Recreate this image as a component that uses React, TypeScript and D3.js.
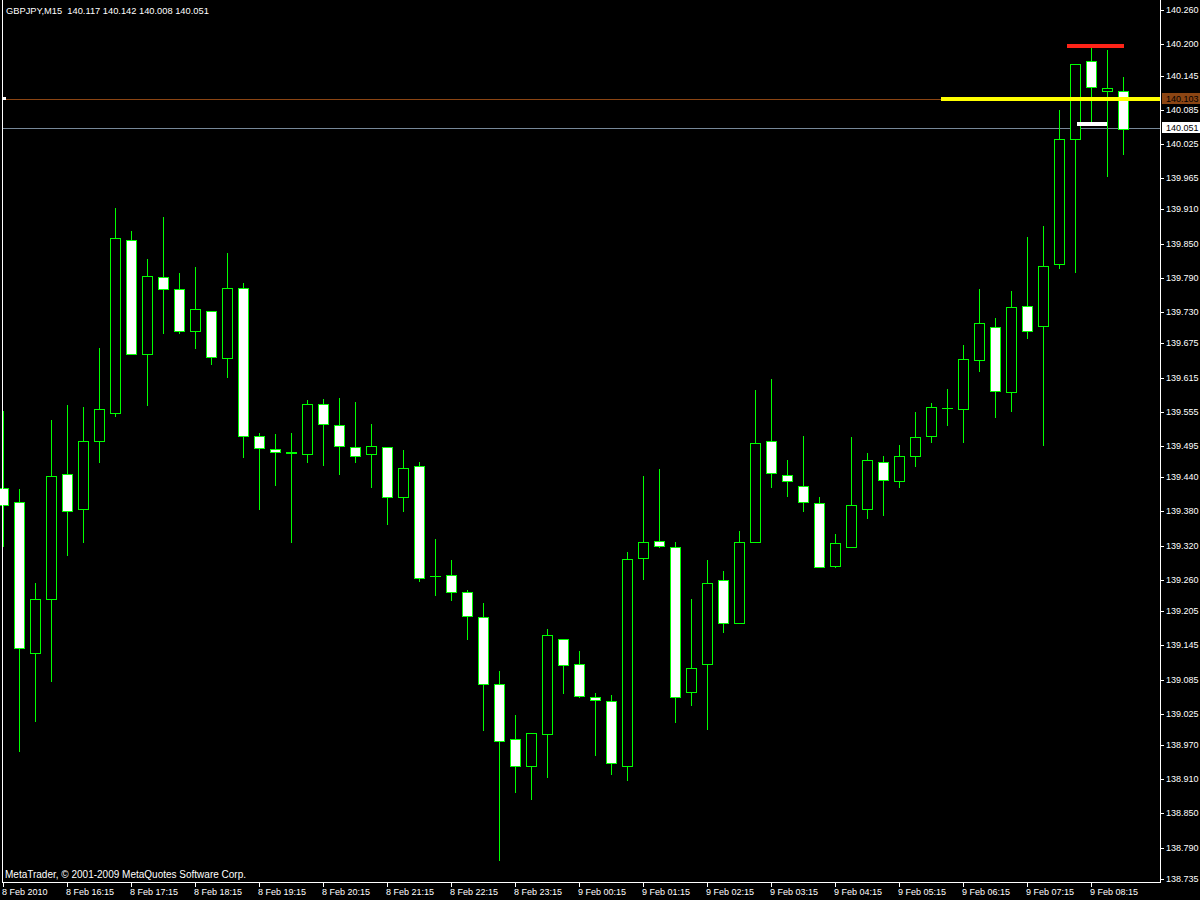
import React from "react";
import * as d3 from "d3";

// ---- chart texts ----
const symbolTitle = "GBPJPY,M15  140.117 140.142 140.008 140.051";
const copyright = "MetaTrader, © 2001-2009 MetaQuotes Software Corp.";

// ---- OHLC series (15-minute bars, 8 Feb 2010 15:15 .. 9 Feb 2010 08:45) ----
const opens = [
  139.421, 139.396, 139.132, 139.226, 139.445, 139.384, 139.503, 139.552, 139.856, 139.656,
  139.792, 139.770, 139.696, 139.731, 139.649, 139.773, 139.512, 139.489, 139.484, 139.480,
  139.568, 139.531, 139.493, 139.480, 139.493, 139.406, 139.459, 139.266, 139.268, 139.238,
  139.194, 139.077, 138.980, 138.934, 138.989, 139.156, 139.112, 139.054, 139.047, 138.934,
  139.298, 139.328, 139.317, 139.063, 139.113, 139.259, 139.185, 139.326, 139.503, 139.444,
  139.424, 139.394, 139.285, 139.317, 139.385, 139.466, 139.433, 139.477, 139.512, 139.562,
  139.559, 139.645, 139.703, 139.589, 139.740, 139.705, 139.814, 140.033, 140.170, 140.118,
  140.117,
];
const highs = [
  139.556, 139.419, 139.255, 139.540, 139.567, 139.563, 139.667, 139.913, 139.872, 139.823,
  139.897, 139.799, 139.809, 139.731, 139.834, 139.781, 139.518, 139.516, 139.518, 139.576,
  139.577, 139.579, 139.572, 139.533, 139.493, 139.488, 139.467, 139.332, 139.295, 139.242,
  139.219, 139.100, 139.023, 138.991, 139.174, 139.156, 139.135, 139.061, 139.058, 139.309,
  139.442, 139.454, 139.326, 139.226, 139.294, 139.275, 139.345, 139.594, 139.612, 139.470,
  139.512, 139.405, 139.340, 139.511, 139.482, 139.477, 139.497, 139.554, 139.570, 139.595,
  139.672, 139.770, 139.719, 139.767, 139.862, 139.881, 140.085, 140.166, 140.197, 140.190,
  140.142,
];
const lows = [
  139.320, 138.960, 139.013, 139.083, 139.304, 139.327, 139.466, 139.548, 139.656, 139.566,
  139.694, 139.694, 139.666, 139.638, 139.616, 139.476, 139.385, 139.427, 139.327, 139.467,
  139.462, 139.446, 139.467, 139.423, 139.358, 139.381, 139.258, 139.234, 139.225, 139.157,
  138.997, 138.769, 138.888, 138.876, 138.914, 139.062, 139.055, 138.953, 138.920, 138.909,
  139.262, 139.317, 139.011, 139.041, 138.999, 139.169, 139.185, 139.326, 139.423, 139.408,
  139.380, 139.282, 139.283, 139.317, 139.369, 139.374, 139.423, 139.460, 139.502, 139.532,
  139.502, 139.627, 139.546, 139.557, 139.685, 139.497, 139.808, 139.801, 140.063, 139.969,
  140.008,
];
const closes = [
  139.391, 139.140, 139.226, 139.443, 139.380, 139.503, 139.559, 139.860, 139.656, 139.794,
  139.770, 139.697, 139.735, 139.651, 139.773, 139.513, 139.491, 139.484, 139.483, 139.568,
  139.533, 139.494, 139.477, 139.494, 139.405, 139.457, 139.264, 139.266, 139.238, 139.196,
  139.078, 138.978, 138.934, 138.991, 139.163, 139.110, 139.056, 139.049, 138.938, 139.296,
  139.326, 139.319, 139.054, 139.106, 139.254, 139.184, 139.326, 139.501, 139.447, 139.433,
  139.396, 139.282, 139.324, 139.392, 139.471, 139.435, 139.477, 139.510, 139.563, 139.561,
  139.647, 139.710, 139.591, 139.738, 139.696, 139.810, 140.033, 140.166, 140.124, 140.123,
  140.051,
];

// ---- axis tick labels ----
const priceTicks = [
  140.26, 140.2, 140.145, 140.085, 140.025, 139.965, 139.91, 139.85, 139.79, 139.73,
  139.675, 139.615, 139.555, 139.495, 139.44, 139.38, 139.32, 139.26, 139.205, 139.145,
  139.085, 139.025, 138.97, 138.91, 138.85, 138.79, 138.735,
];
const timeLabels = [
  "8 Feb 2010", "8 Feb 16:15", "8 Feb 17:15", "8 Feb 18:15", "8 Feb 19:15", "8 Feb 20:15",
  "8 Feb 21:15", "8 Feb 22:15", "8 Feb 23:15", "9 Feb 00:15", "9 Feb 01:15", "9 Feb 02:15",
  "9 Feb 03:15", "9 Feb 04:15", "9 Feb 05:15", "9 Feb 06:15", "9 Feb 07:15", "9 Feb 08:15",
];
const timeLabelBars = [0, 4, 8, 12, 16, 20, 24, 28, 32, 36, 40, 44, 48, 52, 56, 60, 64, 68];

// ---- objects drawn on the chart ----
const hLineLevel = 140.103; // brown horizontal line (labelled)
const bidLevel = 140.051; // bid line (labelled)
const yellowLevel = 140.103;
const yellowFromBar = 58.625;
const redLevel = 140.197;
const redBars = [66.5, 70.0625];
const whiteLevel = 140.06;
const whiteBars = [67.125, 69];

const W = 1200;
const H = 900;
const PLOT_LEFT = 2;
const PLOT_RIGHT = 1160;
const PLOT_BOTTOM = 882;
const LIME = "#00ff00";
const FONT = "'Liberation Sans', Arial, sans-serif";

export default function App() {
  const x = d3.scaleLinear().domain([0, 70]).range([3, 1123]);
  const y = d3.scaleLinear().domain([138.735, 140.26]).range([879, 10]);
  const fmt = d3.format(".3f");

  const candles = opens.map((o, i) => {
    const c = Math.round(x(i));
    const cl = closes[i];
    const yt = Math.round(y(Math.max(o, cl)));
    const yb = Math.round(y(Math.min(o, cl)));
    const yh = Math.round(y(highs[i]));
    const yl = Math.round(y(lows[i]));
    const bull = cl > o;
    return (
      <g key={i}>
        <line x1={c + 0.5} x2={c + 0.5} y1={yh} y2={yl + 1} stroke={LIME} strokeWidth={1} />
        {yb - yt < 1 ? (
          <line x1={c - 5} x2={c + 6} y1={yt + 0.5} y2={yt + 0.5} stroke={LIME} strokeWidth={1} />
        ) : (
          <rect
            x={c - 5 + 0.5}
            y={yt + 0.5}
            width={10}
            height={yb - yt}
            fill={bull ? "#000000" : "#ffffff"}
            stroke={LIME}
            strokeWidth={1}
          />
        )}
      </g>
    );
  });

  const yHL = Math.floor(y(hLineLevel)) + 0.5;
  const yBid = Math.floor(y(bidLevel)) - 0.5;

  return (
    <svg
      width={W}
      height={H}
      style={{ position: "absolute", left: 0, top: 0, background: "#000" }}
      shapeRendering="crispEdges"
      fontFamily={FONT}
      fontSize={9}
    >
      <rect x={0} y={0} width={W} height={H} fill="#000" />

      {/* horizontal line object and bid line */}
      <line x1={PLOT_LEFT} x2={PLOT_RIGHT} y1={yHL} y2={yHL} stroke="#8b4513" strokeWidth={1} />
      <line x1={PLOT_LEFT} x2={PLOT_RIGHT} y1={yBid} y2={yBid} stroke="#778899" strokeWidth={1} />
      <rect x={3} y={yHL - 2.5} width={3} height={3} fill="#fff" />

      {/* candles */}
      {candles}

      {/* drawn levels */}
      <rect
        x={Math.round(x(yellowFromBar))}
        y={Math.round(y(yellowLevel)) - 2}
        width={PLOT_RIGHT - Math.round(x(yellowFromBar))}
        height={4}
        fill="#ffff00"
      />
      <rect
        x={Math.round(x(redBars[0]))}
        y={Math.round(y(redLevel)) - 2}
        width={Math.round(x(redBars[1])) - Math.round(x(redBars[0]))}
        height={4}
        fill="#ff2418"
      />
      <rect
        x={Math.round(x(whiteBars[0]))}
        y={Math.round(y(whiteLevel)) - 2}
        width={Math.round(x(whiteBars[1])) - Math.round(x(whiteBars[0]))}
        height={4}
        fill="#ffffff"
      />

      {/* frame */}
      <line x1={PLOT_LEFT + 0.5} x2={PLOT_LEFT + 0.5} y1={0} y2={PLOT_BOTTOM + 1} stroke="#fff" />
      <line x1={PLOT_RIGHT + 0.5} x2={PLOT_RIGHT + 0.5} y1={0} y2={PLOT_BOTTOM + 1} stroke="#fff" />
      <line x1={PLOT_LEFT} x2={PLOT_RIGHT + 1} y1={PLOT_BOTTOM + 0.5} y2={PLOT_BOTTOM + 0.5} stroke="#fff" />

      {/* price axis */}
      {priceTicks.map((p) => {
        const ty = Math.round(y(p));
        return (
          <g key={p}>
            <line x1={PLOT_RIGHT + 1} x2={PLOT_RIGHT + 4} y1={ty + 0.5} y2={ty + 0.5} stroke="#fff" />
            <text x={1166} y={ty + 3} fill="#fff">
              {fmt(p)}
            </text>
          </g>
        );
      })}

      {/* price labels of lines */}
      <rect x={PLOT_RIGHT + 2} y={Math.round(y(hLineLevel)) - 6} width={38} height={11} fill="#8b4513" />
      <text x={1166} y={Math.round(y(hLineLevel)) + 3} fill="#000">
        {fmt(hLineLevel)}
      </text>
      <rect x={PLOT_RIGHT + 2} y={Math.round(y(bidLevel)) - 7} width={38} height={11} fill="#ffffff" />
      <text x={1166} y={Math.round(y(bidLevel)) + 2} fill="#000">
        {fmt(bidLevel)}
      </text>

      {/* time axis */}
      {timeLabels.map((t, k) => {
        const tx = Math.round(x(timeLabelBars[k]));
        return (
          <g key={t}>
            <line x1={tx + 0.5} x2={tx + 0.5} y1={PLOT_BOTTOM} y2={PLOT_BOTTOM + 5} stroke="#fff" />
            <text x={tx - 1} y={895} fill="#fff">
              {t}
            </text>
          </g>
        );
      })}

      {/* texts */}
      <text x={6} y={14} fill="#fff" fontSize={9.3} style={{ whiteSpace: "pre" }}>
        {symbolTitle}
      </text>
      <text x={5} y={878} fill="#fff" fontSize={10}>
        {copyright}
      </text>
    </svg>
  );
}
